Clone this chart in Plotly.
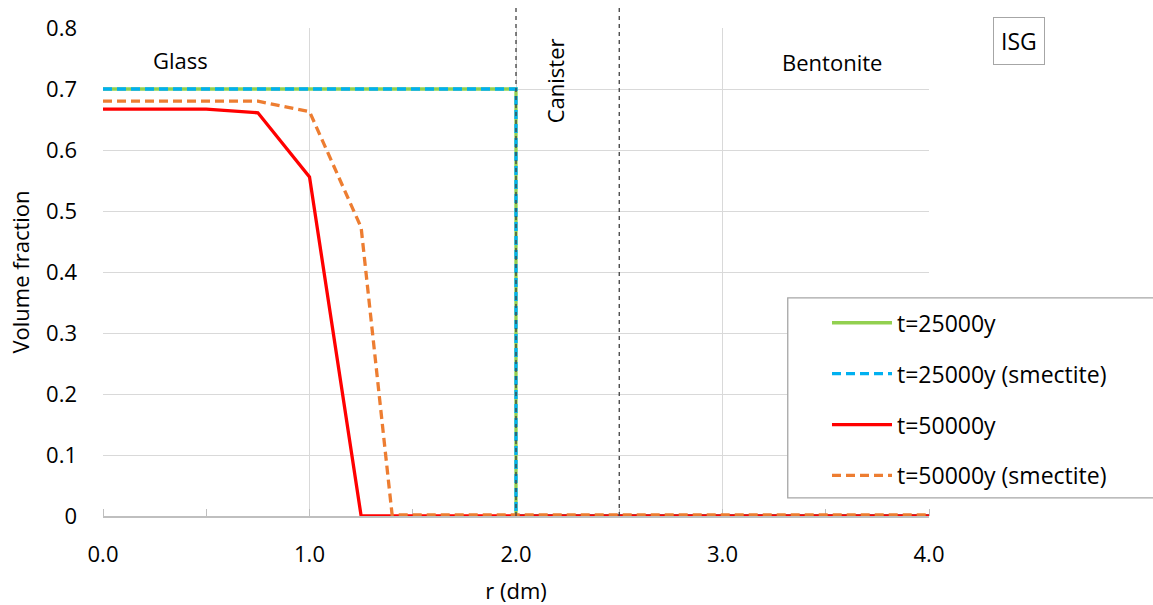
import plotly.graph_objects as go

# ---- data ----
r_25k = [0.0, 2.0, 2.0, 4.0]
v_25k = [0.7, 0.7, 0.0, 0.0]
r_25k_sm = [0.0, 2.0, 2.0, 4.0]
v_25k_sm = [0.7, 0.7, 0.0, 0.0]
r_50k = [0.0, 0.5, 0.75, 1.0, 1.25, 4.0]
v_50k = [0.667, 0.667, 0.661, 0.556, 0.0, 0.0]
r_50k_sm = [0.0, 0.75, 1.0, 1.25, 1.4, 4.0]
v_50k_sm = [0.68, 0.68, 0.663, 0.473, 0.002, 0.002]
boundaries = [2.0, 2.5]
x_tickvals = [0, 1, 2, 3, 4]
x_ticktext = ["0.0", "1.0", "2.0", "3.0", "4.0"]
y_tickvals = [0, 0.1, 0.2, 0.3, 0.4, 0.5, 0.6, 0.7, 0.8]
y_ticktext = ["0", "0.1", "0.2", "0.3", "0.4", "0.5", "0.6", "0.7", "0.8"]
X_RANGE = [0, 4]
Y_RANGE = [0, 0.8]

FONT = "Open Sans"
fig = go.Figure()
series = [
    ("t=25000y", r_25k, v_25k, "#92D050", "solid"),
    ("t=25000y (smectite)", r_25k_sm, v_25k_sm, "#00B0F0", "9px,5px"),
    ("t=50000y", r_50k, v_50k, "#FF0000", "solid"),
    ("t=50000y (smectite)", r_50k_sm, v_50k_sm, "#ED7D31", "9px,5px"),
]
for i, (name, x, y, c, d) in enumerate(series):
    fig.add_trace(go.Scatter(x=x, y=y, name=name, mode="lines",
                             line=dict(color=c, width=3.3, dash=d),
                             legendgroup=f"g{i}"))

for b in boundaries:
    xd = (b - X_RANGE[0]) / (X_RANGE[1] - X_RANGE[0])
    fig.add_shape(type="line", xref="x domain", yref="paper",
                  x0=xd, x1=xd, y0=0, y1=1.047,
                  line=dict(color="#404040", width=1.3, dash="4px,4px"))

# legend frame
fig.add_shape(type="rect", xref="paper", yref="paper",
              x0=0.829, x1=1.28, y0=0.037, y1=0.447,
              line=dict(color="#a6a6a6", width=1.3), fillcolor="white", layer="above")

fig.add_annotation(x=0.375, y=0.748, text="Glass", showarrow=False,
                   font=dict(size=22, color="black", family=FONT))
fig.add_annotation(x=3.53, y=0.745, text="Bentonite", showarrow=False,
                   font=dict(size=22, color="black", family=FONT))
fig.add_annotation(x=2.19, y=0.713, text="Canister", showarrow=False, textangle=-90,
                   font=dict(size=22, color="black", family=FONT))
fig.add_annotation(xref="paper", yref="paper", x=1.109, y=0.973, text="ISG",
                   xanchor="center", yanchor="middle",
                   showarrow=False, bordercolor="#a6a6a6", borderwidth=1, borderpad=7,
                   bgcolor="white", font=dict(size=23, color="black", family=FONT))

fig.update_layout(
    width=1153, height=605,
    margin=dict(l=103, r=224, t=28, b=89),
    paper_bgcolor="white", plot_bgcolor="white",
    font=dict(family=FONT, size=22, color="black"),
    showlegend=True,
    legend=dict(x=0.8765, y=0.44, xanchor="left", yanchor="top",
                bgcolor="rgba(0,0,0,0)", borderwidth=0,
                traceorder="grouped", tracegroupgap=18,
                font=dict(size=23, family=FONT), itemwidth=60),
    xaxis=dict(range=X_RANGE, tickvals=x_tickvals, ticktext=x_ticktext,
               showgrid=True, gridcolor="#d9d9d9", gridwidth=1,
               zeroline=False, showline=True, linecolor="#bfbfbf", linewidth=2,
               ticks="", ticklabelstandoff=18, layer="below traces",
               tickfont=dict(size=22), automargin=False,
               minor=dict(dtick=0.5, ticks="inside", ticklen=7, tickcolor="#bfbfbf",
                          showgrid=False),
               title=dict(text="r (dm)", font=dict(size=22), standoff=16)),
    yaxis=dict(range=Y_RANGE, tickvals=y_tickvals, ticktext=y_ticktext,
               showgrid=True, gridcolor="#d9d9d9", gridwidth=1,
               zeroline=False, showline=False, ticks="", ticklabelstandoff=25,
               layer="below traces", tickfont=dict(size=22), automargin=False,
               title=dict(text="Volume fraction", font=dict(size=22), standoff=10)),
)

fig.write_html("out.html")
